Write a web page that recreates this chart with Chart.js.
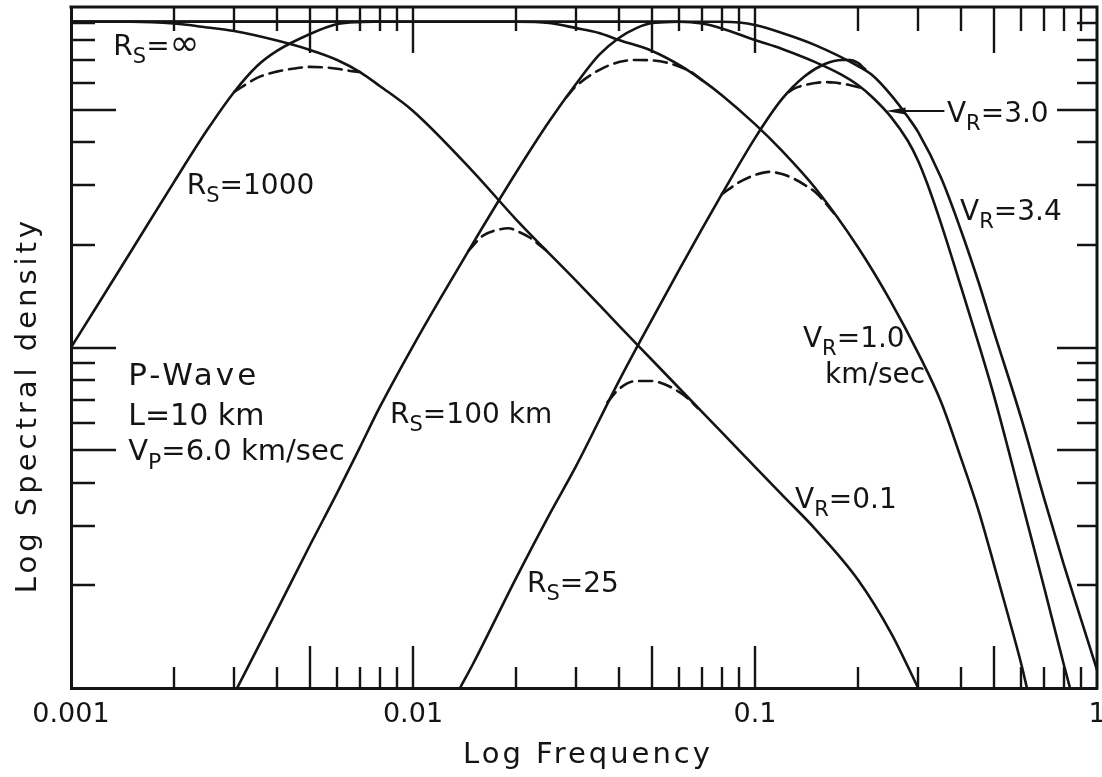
<!DOCTYPE html>
<html>
<head>
<meta charset="utf-8">
<title>P-Wave source spectra</title>
<script src="https://cdn.jsdelivr.net/npm/chart.js@4.4.1/dist/chart.umd.min.js"></script>
<style>
  html, body { margin: 0; padding: 0; background: #fff; }
  canvas { display: block; }
</style>
</head>
<body>
<canvas id="chart" width="1102" height="777"></canvas>
<script>
// Pairs of [frequency, relative spectral density].
// Far-field spectra (R_S = infinity) for four rupture velocities.
const vr01 = [[0.001,90.5],[0.0015,90.5],[0.002,89.4],[0.0025,87.1],[0.003,85.0],[0.004,79.7],[0.005,74.8],[0.006,69.9],[0.007,64.4],[0.008,58.6],[0.01,49.5],[0.015,32.8],[0.02,23.8],[0.03,15.7],[0.04,11.6],[0.05,9.19],[0.07,6.47],[0.1,4.46],[0.12,3.69],[0.15,2.93],[0.2,2.08],[0.25,1.45],[0.3,1.0]];
const vr10 = [[0.001,90.5],[0.01,90.5],[0.02,90.5],[0.025,89.7],[0.03,86.7],[0.035,83.9],[0.04,80.0],[0.05,74.3],[0.06,67.6],[0.07,61.0],[0.08,55.1],[0.1,45.3],[0.12,37.8],[0.15,29.4],[0.2,19.7],[0.25,13.6],[0.3,9.63],[0.35,6.92],[0.4,4.74],[0.45,3.33],[0.5,2.30],[0.55,1.63],[0.6,1.18],[0.624,1.0]];
const vr30 = [[0.001,90.5],[0.01,90.5],[0.06,90.5],[0.07,89.4],[0.08,86.5],[0.1,80.0],[0.12,75.3],[0.15,68.9],[0.18,63.1],[0.2,59.0],[0.22,54.4],[0.25,47.5],[0.28,40.4],[0.3,35.3],[0.32,30.0],[0.35,23.1],[0.4,15.1],[0.45,10.3],[0.5,7.20],[0.55,5.03],[0.6,3.59],[0.7,1.98],[0.8,1.17],[0.834,1.0]];
const vr34 = [[0.001,90.5],[0.01,90.5],[0.08,90.5],[0.09,90.0],[0.1,88.5],[0.12,83.9],[0.15,77.3],[0.2,67.1],[0.22,63.1],[0.25,55.1],[0.28,47.5],[0.3,42.9],[0.35,31.5],[0.4,22.1],[0.45,15.6],[0.5,11.1],[0.6,6.21],[0.7,3.61],[0.8,2.30],[0.9,1.58],[1.0,1.13]];

// Near-source spectra at finite distances R_S.
const rs1000 = [[0.001,10.0],[0.0012,13.4],[0.0015,19.2],[0.002,30.6],[0.0025,43.5],[0.003,56.3],[0.0035,67.1],[0.004,74.3],[0.005,83.3],[0.006,89.1],[0.007,90.3],[0.008,90.5]];
const rs100 = [[0.00306,1.0],[0.0035,1.30],[0.004,1.69],[0.005,2.63],[0.006,3.74],[0.007,5.10],[0.008,6.69],[0.01,10.1],[0.012,13.9],[0.015,20.3],[0.02,32.6],[0.025,46.1],[0.03,59.5],[0.035,72.3],[0.04,81.1],[0.045,86.7],[0.05,89.7],[0.06,90.5]];
const rs25 = [[0.01372,1.0],[0.015,1.18],[0.02,2.10],[0.025,3.22],[0.03,4.49],[0.04,7.97],[0.05,12.1],[0.06,16.9],[0.07,22.3],[0.08,28.2],[0.1,41.2],[0.12,53.7],[0.14,62.7],[0.16,68.0],[0.18,69.9],[0.19,69.9],[0.2,68.5],[0.21,65.6]];

// Transition curves (dashed) where a near-source branch meets a far-field branch.
const rs1000vr01 = [[0.003,56.3],[0.0035,61.9],[0.004,64.6],[0.0045,66.0],[0.005,66.7],[0.0055,66.5],[0.006,65.9],[0.0065,65.0],[0.007,64.4]];
const rs100vr01 = [[0.0145,19.2],[0.016,21.3],[0.0175,22.1],[0.019,22.4],[0.0205,21.8],[0.022,21.0],[0.0235,19.95],[0.0245,19.3]];
const rs100vr10 = [[0.028,54.2],[0.03,58.6],[0.035,65.3],[0.04,68.9],[0.045,69.9],[0.05,69.7],[0.055,68.7],[0.06,66.9],[0.065,64.5],[0.07,61.0]];
const rs25vr01 = [[0.037,6.9],[0.04,7.55],[0.045,7.97],[0.05,7.97],[0.055,7.76],[0.06,7.40],[0.064,7.05],[0.068,6.64]];
const rs25vr10 = [[0.08,28.2],[0.09,30.6],[0.1,32.1],[0.11,32.8],[0.12,32.3],[0.13,31.3],[0.14,30.0],[0.15,28.6],[0.16,26.7],[0.17,24.8]];
const rs25vr30 = [[0.1257,56.3],[0.13,57.6],[0.14,59.0],[0.15,59.8],[0.16,60.2],[0.17,60.0],[0.18,59.5],[0.19,58.9],[0.205,57.8]];

// Axis ranges and labelled ticks
const xRange = [0.001, 1];
const yRange = [1, 100];
const xTickValues = [0.001, 0.01, 0.1, 1];
const xTickLabels = ['0.001', '0.01', '0.1', '1'];

const INK = '#141414';
const FONT = '"DejaVu Sans", sans-serif';

const toXY = arr => arr.map(([x, y]) => ({ x, y }));
const solid = (data) => ({ data: toXY(data), borderColor: INK, borderWidth: 2.6 });
const dashed = (data) => ({ data: toXY(data), borderColor: INK, borderWidth: 2.6, borderDash: [13, 7] });

// Minor decade subdivisions (2..9) and decade marks, for the inward tick marks
function decadeMarks(lo, hi) {
  const marks = [];
  for (let d = lo; d < hi * 0.999; d *= 10) {
    for (let m = 1; m <= 9; m++) {
      const v = +(m * d).toPrecision(6);
      if (v <= lo * 1.0001 || v >= hi * 0.9999) continue;
      marks.push({ v, long: m === 1 || m === 5 });
    }
  }
  return marks;
}

// Draws a text run made of normal and subscript pieces
function drawRich(ctx, x, y, parts, size, spacing) {
  let cx = x;
  ctx.letterSpacing = (spacing || 0) + 'px';
  for (const [text, kind] of parts) {
    let sz = size, dy = 0;
    if (kind === 'sub') { sz = Math.round(size * 0.75); dy = Math.round(size * 0.3); }
    if (kind === 'big') { sz = Math.round(size * 1.3); }
    ctx.font = sz + 'px ' + FONT;
    ctx.fillText(text, cx, y + dy);
    cx += ctx.measureText(text).width;
  }
  ctx.letterSpacing = '0px';
}

const framePlugin = {
  id: 'frameAndNotes',
  afterDraw(chart) {
    const { ctx, chartArea: a, scales: { x, y } } = chart;
    ctx.save();
    ctx.strokeStyle = INK;
    ctx.fillStyle = INK;

    // top and right frame edges
    ctx.lineWidth = 3;
    ctx.beginPath();
    ctx.moveTo(a.left - 1.5, a.top); ctx.lineTo(a.right, a.top); ctx.lineTo(a.right, a.bottom + 1.5);
    ctx.stroke();

    // inward tick marks on all four sides
    ctx.lineWidth = 2.4;
    ctx.beginPath();
    for (const t of decadeMarks(xRange[0], xRange[1])) {
      const px = Math.round(x.getPixelForValue(t.v));
      const len = t.long ? 42 : 21;
      ctx.moveTo(px, a.bottom); ctx.lineTo(px, a.bottom - len);
      ctx.moveTo(px, a.top); ctx.lineTo(px, a.top + (t.long ? 46 : 24));
    }
    for (const t of decadeMarks(yRange[0], yRange[1])) {
      const py = Math.round(y.getPixelForValue(t.v));
      ctx.moveTo(a.left, py); ctx.lineTo(a.left + (t.long ? 45 : 24), py);
      ctx.moveTo(a.right, py); ctx.lineTo(a.right - (t.long ? 40 : 20), py);
    }
    ctx.stroke();

    // axis titles
    ctx.textBaseline = 'alphabetic';
    ctx.textAlign = 'center';
    ctx.font = '29px ' + FONT;
    ctx.letterSpacing = '3px';
    ctx.fillText('Log Frequency', (a.left + a.right) / 2 + 4, 763);
    ctx.save();
    ctx.translate(36, 405);
    ctx.rotate(-Math.PI / 2);
    ctx.letterSpacing = '4px';
    ctx.fillText('Log Spectral density', 0, 0);
    ctx.restore();
    ctx.letterSpacing = '0px';
    ctx.textAlign = 'left';

    // curve annotations, anchored at (frequency, density)
    const notes = [
      { f: 0.00133, v: 72.3, size: 28, parts: [['R'], ['S', 'sub'], ['='], ['\u221E', 'big']] },
      { f: 0.00218, v: 28.2, size: 28, parts: [['R'], ['S', 'sub'], ['=1000']] },
      { f: 0.00147, v: 7.76, size: 31, sp: 3, parts: [['P-Wave']] },
      { f: 0.00147, v: 5.92, size: 30, parts: [['L=10 km']] },
      { f: 0.00147, v: 4.67, size: 29, parts: [['V'], ['P', 'sub'], ['=6.0 km/sec']] },
      { f: 0.00857, v: 6.00, size: 28, parts: [['R'], ['S', 'sub'], ['=100 km']] },
      { f: 0.02154, v: 1.91, size: 28, parts: [['R'], ['S', 'sub'], ['=25']] },
      { f: 0.1381, v: 10.03, size: 28, parts: [['V'], ['R', 'sub'], ['=1.0']] },
      { f: 0.1602, v: 7.87, size: 28, parts: [['km/sec']] },
      { f: 0.1309, v: 3.38, size: 28, parts: [['V'], ['R', 'sub'], ['=0.1']] },
      { f: 0.3641, v: 45.9, size: 28, parts: [['V'], ['R', 'sub'], ['=3.0']] },
      { f: 0.3975, v: 23.7, size: 28, parts: [['V'], ['R', 'sub'], ['=3.4']] }
    ];
    for (const n of notes) {
      drawRich(ctx, x.getPixelForValue(n.f), y.getPixelForValue(n.v), n.parts, n.size, n.sp);
    }

    // leader with arrowhead from the V_R=3.0 label to its curve
    const ly = y.getPixelForValue(49.5);
    const tipX = x.getPixelForValue(0.241);
    const tailX = x.getPixelForValue(0.358);
    ctx.lineWidth = 2;
    ctx.beginPath();
    ctx.moveTo(tailX, ly); ctx.lineTo(tipX + 10, ly);
    ctx.stroke();
    ctx.beginPath();
    ctx.moveTo(tipX, ly); ctx.lineTo(tipX + 20, ly - 3.5); ctx.lineTo(tipX + 20, ly + 3.5);
    ctx.closePath();
    ctx.fill();

    ctx.restore();
  }
};

new Chart(document.getElementById('chart'), {
  type: 'line',
  data: {
    datasets: [
      solid(vr01), solid(vr10), solid(vr30), solid(vr34),
      solid(rs1000), solid(rs100), solid(rs25),
      dashed(rs1000vr01), dashed(rs100vr01), dashed(rs100vr10),
      dashed(rs25vr01), dashed(rs25vr10), dashed(rs25vr30)
    ]
  },
  options: {
    responsive: false,
    animation: false,
    devicePixelRatio: 1,
    layout: { padding: { top: 7, right: 5, left: 0, bottom: 0 } },
    plugins: { legend: { display: false }, tooltip: { enabled: false } },
    elements: {
      point: { radius: 0 },
      line: { fill: false, cubicInterpolationMode: 'monotone', borderCapStyle: 'round', borderJoinStyle: 'round' }
    },
    scales: {
      x: {
        type: 'logarithmic', position: 'bottom',
        min: xRange[0], max: xRange[1],
        grid: { display: false, drawTicks: false },
        border: { display: true, color: INK, width: 3 },
        ticks: {
          color: INK, font: { family: 'DejaVu Sans', size: 27 }, padding: 11,
          autoSkip: false, maxRotation: 0, minRotation: 0,
          callback: (value) => {
            const i = xTickValues.findIndex(t => Math.abs(t - value) / t < 1e-6);
            return i >= 0 ? xTickLabels[i] : '';
          }
        },
        afterBuildTicks: (s) => { s.ticks = xTickValues.map(v => ({ value: v })); },
        afterFit: (s) => { s.height = 89; s.paddingLeft = 0; s.paddingRight = 0; }
      },
      y: {
        type: 'logarithmic', position: 'left',
        min: yRange[0], max: yRange[1],
        grid: { display: false, drawTicks: false },
        border: { display: true, color: INK, width: 3 },
        ticks: { display: false },
        afterFit: (s) => { s.width = 71; }
      }
    }
  },
  plugins: [framePlugin]
});
</script>
</body>
</html>
